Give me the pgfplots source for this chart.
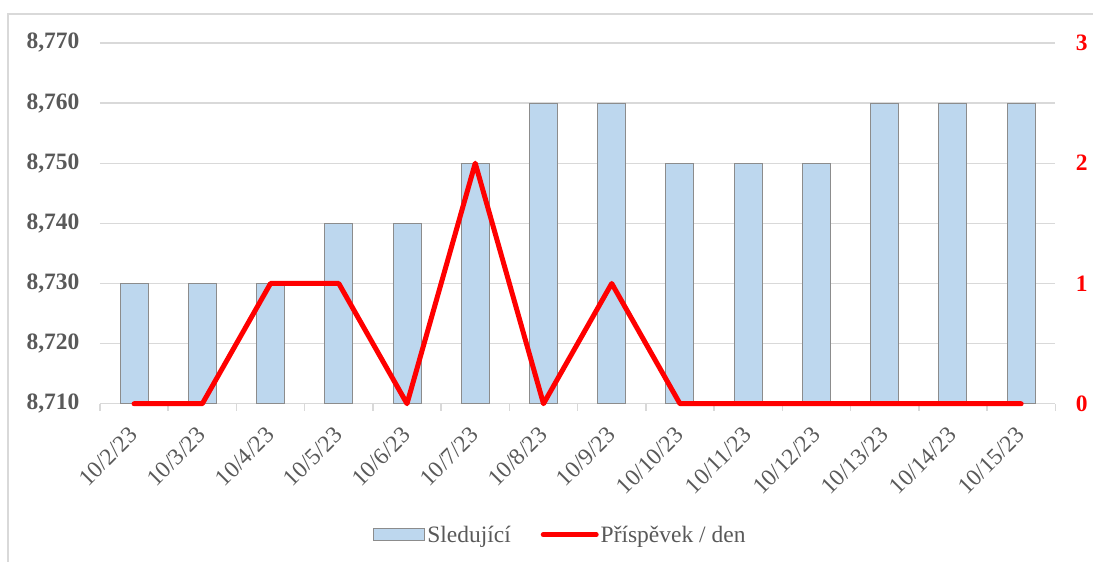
\documentclass[border=0pt]{standalone}
\usepackage{pgfplots}
\pgfplotsset{compat=1.18}
\usepackage{fontspec}
\setmainfont{Liberation Serif}
\definecolor{gridgray}{HTML}{D9D9D9}
\definecolor{txtgray}{HTML}{595959}
\definecolor{barblue}{HTML}{BDD7EE}
\definecolor{baredge}{HTML}{8C8C8C}
\definecolor{linered}{HTML}{FF0000}
\begin{document}
\begin{tikzpicture}[x=1pt,y=1pt]
\path (0,0) rectangle (1094,562);
\draw[gridgray, line width=1.5pt] (8,0) -- (8,548) -- (1094,548);
\begin{axis}[
  at={(100pt,158pt)}, anchor=south west,
  scale only axis, width=956pt, height=361pt,
  xmin=-0.5, xmax=13.5, ymin=8710, ymax=8770,
  ytick={8710,8720,8730,8740,8750,8760,8770},
  xtick={0,...,13},
  xticklabels={10/2/23,10/3/23,10/4/23,10/5/23,10/6/23,10/7/23,10/8/23,10/9/23,10/10/23,10/11/23,10/12/23,10/13/23,10/14/23,10/15/23},
  minor xtick={-0.5,0.5,...,13.5},
  major tick length=0pt, minor tick length=7pt,
  tick align=outside,
  minor tick style={gridgray, line width=1.5pt},
  axis x line*=bottom, axis y line*=left,
  y axis line style={draw=none},
  x axis line style={gridgray, line width=1.5pt},
  ymajorgrids, grid style={gridgray, line width=1.3pt},
  /pgf/number format/.cd, 1000 sep={,}, assume math mode=true, /pgfplots/.cd,
  yticklabel style={font=\fontsize{23.5}{28}\selectfont\bfseries, text=txtgray, xshift=-17pt},
  xticklabel style={font=\fontsize{23.5}{28}\selectfont, text=txtgray, xshift=2pt, yshift=-25pt, rotate=45, anchor=east},
  clip=true,
]
\addplot[ybar, bar width=28pt, fill=barblue, draw=baredge, line width=1pt] coordinates {
(0,8730) (1,8730) (2,8730) (3,8740) (4,8740) (5,8750) (6,8760) (7,8760) (8,8750) (9,8750) (10,8750) (11,8760) (12,8760) (13,8760)};
\end{axis}
\begin{axis}[
  at={(100pt,158pt)}, anchor=south west,
  scale only axis, width=956pt, height=361pt,
  xmin=-0.5, xmax=13.5, ymin=0, ymax=3,
  ytick={0,1,2,3},
  axis x line=none,
  axis y line*=right,
  y axis line style={draw=none},
  major tick length=0pt,
  /pgf/number format/.cd, assume math mode=true, /pgfplots/.cd,
  yticklabel style={font=\fontsize{23.5}{28}\selectfont\bfseries, text=linered, xshift=17pt},
  clip=false,
  legend columns=2,
  legend style={at={(0.482,-0.363)}, anchor=center, draw=none, fill=none,
    font=\fontsize{23.5}{28}\selectfont, text=txtgray,
    /tikz/every even column/.append style={column sep=28pt},
    nodes={inner sep=2pt}},
]
\addlegendimage{legend image code/.code={\draw[fill=barblue, draw=baredge, line width=1pt] (0pt,-6pt) rectangle (51pt,6pt);}}
\addlegendentry{Sledující}
\addplot[linered, line width=5pt, line join=round, line cap=round,
  legend image code/.code={\draw[linered, line width=5pt, line cap=round] (2pt,0pt) -- (55pt,0pt);}] coordinates {
(0,0) (1,0) (2,1) (3,1) (4,0) (5,2) (6,0) (7,1) (8,0) (9,0) (10,0) (11,0) (12,0) (13,0)};
\addlegendentry{Příspěvek / den}
\end{axis}
\end{tikzpicture}
\end{document}
